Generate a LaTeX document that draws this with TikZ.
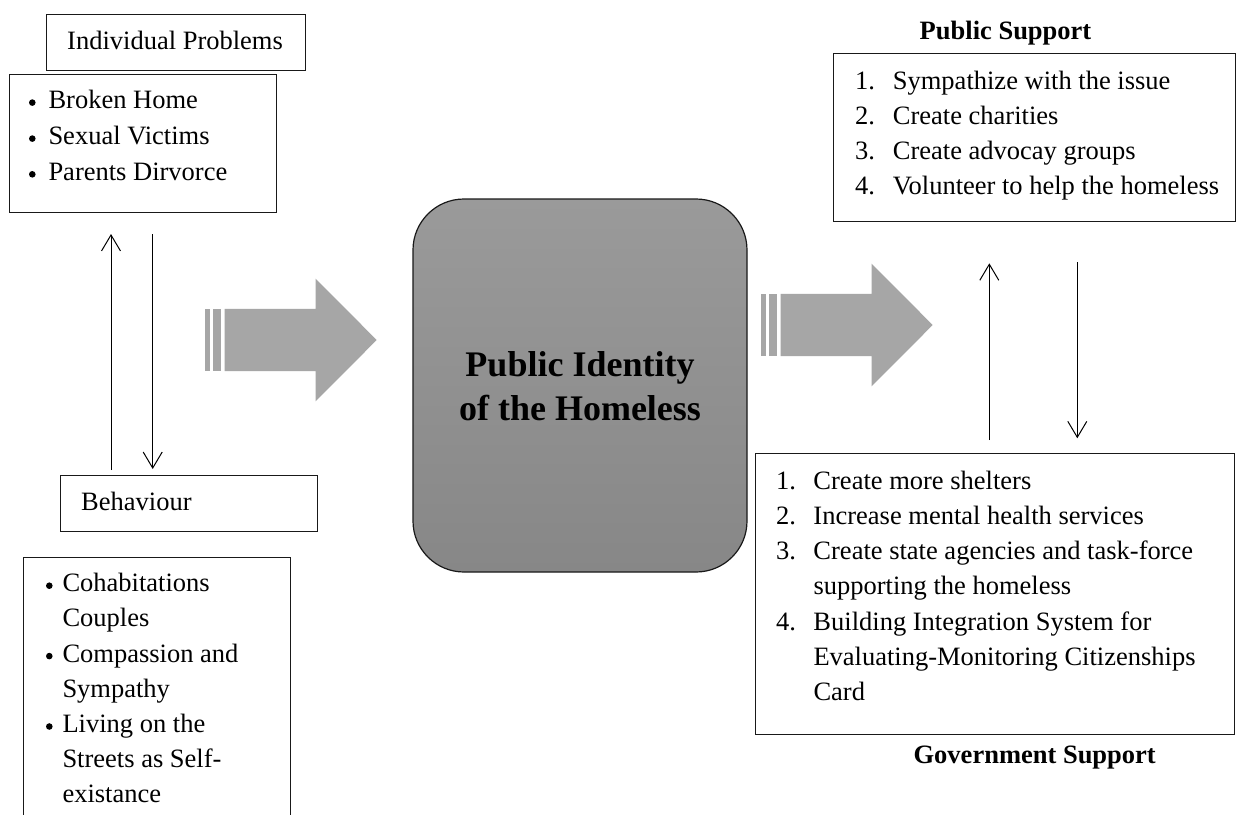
\documentclass[tikz,border=0pt]{standalone}
\usepackage{fontspec}
\setmainfont{Liberation Serif}
\usetikzlibrary{arrows.meta}
\begin{document}
\begin{tikzpicture}[x=1pt,y=-1pt,
  box/.style={draw=black!90, line width=1.2pt, inner sep=0pt, anchor=north west},
  txt/.style={inner sep=0pt, anchor=base west, font=\fontsize{26.5}{35}\selectfont},
  heading/.style={inner sep=0pt, anchor=base, font=\fontsize{26.5}{35}\selectfont\bfseries},
  corefont/.style={inner sep=0pt, anchor=base, font=\fontsize{36}{44}\selectfont\bfseries, text=black},
  dot/.style={circle, fill=black, inner sep=0pt, minimum size=6.6pt},
  link/.style={line width=1pt, -{Straight Barb[length=16pt,width=19pt,line width=1pt]}},
  fatarrow/.pic={
    \fill[arrowgray] (0,-31.2) rectangle (4.6,31.2);
    \fill[arrowgray] (7.8,-31.2) rectangle (15.8,31.2);
    \fill[arrowgray] (19.5,-31.2) -- (110.5,-31.2) -- (110.5,-61.4)
      -- (171.7,0) -- (110.5,61.4) -- (110.5,31.2) -- (19.5,31.2) -- cycle;
  }
]
\definecolor{arrowgray}{HTML}{A6A6A6}
\definecolor{coretop}{HTML}{9A9A9A}
\definecolor{corebot}{HTML}{878787}

\clip (0,0) rectangle (1236,814);
\fill[white] (0,0) rectangle (1236,814);

% ---------- left column: individual problems ----------
\node[box, minimum width=259pt, minimum height=56pt] (ipbox) at (46,14) {};
\node[txt] (iptitle) at (67,49) {Individual Problems};

\node[box, minimum width=267pt, minimum height=138pt] (ipitems) at (9,74) {};
\node[dot] (b1) at (32.3,102.6) {};
\node[txt] (ip1) at (48.3,108.3) {Broken Home};
\node[dot] (b2) at (32.3,138.6) {};
\node[txt] (ip2) at (48.3,144.3) {Sexual Victims};
\node[dot] (b3) at (32.3,174.3) {};
\node[txt] (ip3) at (48.3,180) {Parents Dirvorce};

% ---------- left column: behaviour ----------
\node[box, minimum width=257pt, minimum height=56pt] (behbox) at (60,475) {};
\node[txt] (behtitle) at (81,510) {Behaviour};

\node[box, minimum width=267pt, minimum height=300pt] (behitems) at (23,557) {};
\node[dot] (c1) at (49.3,585.7) {};
\node[txt] (be1) at (62.3,591.7) {Cohabitations};
\node[txt] (be1b) at (62.3,626.9) {Couples};
\node[dot] (c2) at (49.3,656.1) {};
\node[txt] (be2) at (62.3,662.1) {Compassion and};
\node[txt] (be2b) at (62.3,697.3) {Sympathy};
\node[dot] (c3) at (49.3,726.5) {};
\node[txt] (be3) at (62.3,732.5) {Living on the};
\node[txt] (be3b) at (62.3,767.7) {Streets as Self-};
\node[txt] (be3c) at (62.3,802.9) {existance};

% two-way link between problems and behaviour
\coordinate (lupS) at (111,470);
\coordinate (lupE) at (111,234);
\coordinate (ldnS) at (152.7,234);
\coordinate (ldnE) at (152.7,469);
\draw[link] (lupS) -- (lupE);
\draw[link] (ldnS) -- (ldnE);

% ---------- centre ----------
\node[draw=black!90, line width=1.2pt, rounded corners=51pt,
      top color=coretop, bottom color=corebot,
      minimum width=334pt, minimum height=373pt] (core) at (580,385.5) {};
\node[corefont] (core1) at (580,376.7) {Public Identity};
\node[corefont] (core2) at (580,420.5) {of the Homeless};

\pic at (205,340) {fatarrow};
\pic at (761,325) {fatarrow};

% ---------- right column: public support ----------
\node[heading] (pshead) at (1005.5,39) {Public Support};
\node[box, minimum width=402pt, minimum height=168pt] (psbox) at (833,53) {};
\node[txt] (ps1) at (855,89.3) {\makebox[37.7pt][l]{1.}Sympathize with the issue};
\node[txt] (ps2) at (855,124.3) {\makebox[37.7pt][l]{2.}Create charities};
\node[txt] (ps3) at (855,159.3) {\makebox[37.7pt][l]{3.}Create advocay groups};
\node[txt] (ps4) at (855,194.3) {\makebox[37.7pt][l]{4.}Volunteer to help the homeless};

% two-way link between public and government support
\coordinate (rupS) at (989.3,440);
\coordinate (rupE) at (989.3,263.3);
\coordinate (rdnS) at (1077.3,262.3);
\coordinate (rdnE) at (1077.3,438.3);
\draw[link] (rupS) -- (rupE);
\draw[link] (rdnS) -- (rdnE);

% ---------- right column: government support ----------
\node[box, minimum width=479pt, minimum height=281pt] (gsbox) at (755,453) {};
\node[txt] (gs1) at (776,489.3) {\makebox[37.3pt][l]{1.}Create more shelters};
\node[txt] (gs2) at (776,524.5) {\makebox[37.3pt][l]{2.}Increase mental health services};
\node[txt] (gs3) at (776,559.7) {\makebox[37.3pt][l]{3.}Create state agencies and task-force};
\node[txt] (gs3b) at (813.3,594.9) {supporting the homeless};
\node[txt] (gs4) at (776,630.1) {\makebox[37.3pt][l]{4.}Building Integration System for};
\node[txt] (gs4b) at (813.3,665.3) {Evaluating-Monitoring Citizenships};
\node[txt] (gs4c) at (813.3,700.5) {Card};
\node[heading] (gshead) at (1034.7,763.3) {Government Support};
\end{tikzpicture}
\end{document}
